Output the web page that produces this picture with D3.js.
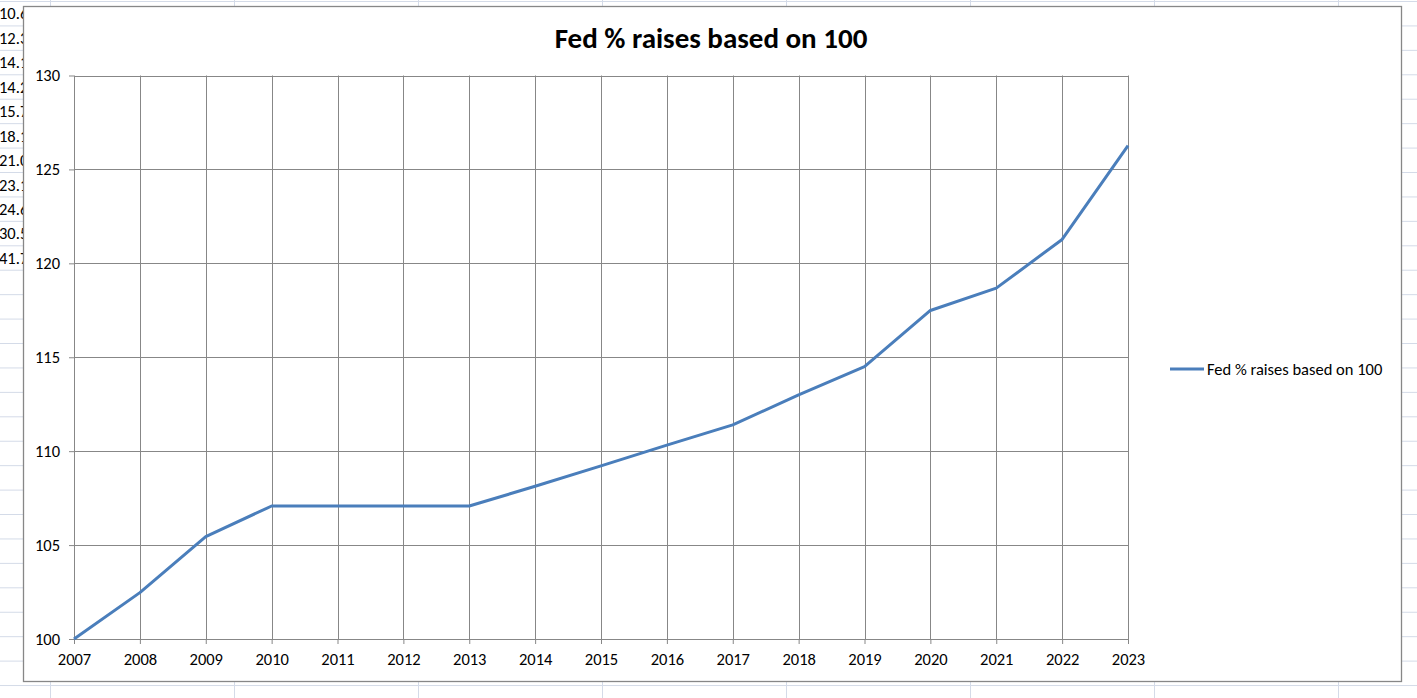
<!DOCTYPE html>
<html>
<head>
<meta charset="utf-8">
<script src="https://cdn.jsdelivr.net/npm/d3@7"></script>
<style>
  body { margin: 0; background: #fff; overflow: hidden; }
  text { font-family: Carlito, Lato, "Open Sans", sans-serif; fill: #000; }
</style>
</head>
<body>
<div id="chart"></div>
<script>
// data
var years = ["2007", "2008", "2009", "2010", "2011", "2012", "2013", "2014", "2015",
    "2016", "2017", "2018", "2019", "2020", "2021", "2022", "2023"];
var raises = [100, 102.47, 105.45, 107.08, 107.08, 107.08, 107.08, 108.13, 109.22,
    110.32, 111.4, 113.0, 114.5, 117.49, 118.68, 121.27, 126.27];
var yTicks = [100, 105, 110, 115, 120, 125, 130];
var seriesName = "Fed % raises based on 100";
// spreadsheet cells peeking out on the left
var sheetCells = ["10.6", "12.3", "14.1", "14.2", "15.7", "18.1", "21.0", "23.1", "24.6", "30.5", "41.7"];

var svgWidth = 1417;
var svgHeight = 698;

var svg = d3.select("#chart")
    .append("svg")
    .attr("width", svgWidth)
    .attr("height", svgHeight);

// spreadsheet background grid
var sheet = svg.append("g");
var rowH = 24.43;
for (var r = 0; r * rowH < svgHeight; r++) {
    sheet.append("line")
        .attr("x1", 0).attr("x2", svgWidth)
        .attr("y1", 1.5 + r * rowH).attr("y2", 1.5 + r * rowH)
        .attr("stroke", "#d4dbe8").attr("stroke-width", 1);
}
for (var c = 50; c < svgWidth; c += 184) {
    sheet.append("line")
        .attr("x1", c + 0.5).attr("x2", c + 0.5)
        .attr("y1", 0).attr("y2", svgHeight)
        .attr("stroke", "#d4dbe8").attr("stroke-width", 1);
}
sheet.selectAll("text.cell")
    .data(sheetCells)
    .enter()
    .append("text")
    .attr("class", "cell")
    .attr("x", -1)
    .attr("y", (d, i) => 1.5 + (i + 0.5) * rowH)
    .attr("dy", "0.35em")
    .style("font-size", "16.5px")
    .text(d => d);

// chart area
var chartBox = { x: 23.5, y: 6.5, w: 1378, h: 675 };
svg.append("rect")
    .attr("x", chartBox.x).attr("y", chartBox.y)
    .attr("width", chartBox.w).attr("height", chartBox.h)
    .attr("fill", "#fff")
    .attr("stroke", "#878787").attr("stroke-width", 1.3);

var margin = { left: 74, top: 75.5, right: 1128, bottom: 639 };

var xScale = d3.scalePoint()
    .domain(years)
    .range([margin.left, margin.right])
    .padding(0);

var yScale = d3.scaleLinear()
    .domain([100, 130])
    .range([margin.bottom, margin.top]);

var gridColor = "#878787";

// horizontal gridlines + y axis
var yAxis = svg.append("g")
    .attr("transform", `translate(${margin.left}, 0)`)
    .call(d3.axisLeft(yScale)
        .tickValues(yTicks)
        .tickSize(5)
        .tickPadding(9)
        .tickFormat(d3.format("d")));
yAxis.select(".domain").remove();
yAxis.selectAll(".tick line").attr("stroke", gridColor);
yAxis.selectAll(".tick text").style("font-size", "16.5px").attr("fill", "#000");

svg.append("g")
    .selectAll("line")
    .data(yTicks)
    .enter()
    .append("line")
    .attr("x1", margin.left).attr("x2", margin.right)
    .attr("y1", d => Math.round(yScale(d)) + 0.5)
    .attr("y2", d => Math.round(yScale(d)) + 0.5)
    .attr("stroke", gridColor).attr("stroke-width", 1);

// vertical gridlines + x axis
svg.append("g")
    .selectAll("line")
    .data(years)
    .enter()
    .append("line")
    .attr("x1", d => Math.round(xScale(d)) + 0.5)
    .attr("x2", d => Math.round(xScale(d)) + 0.5)
    .attr("y1", margin.top).attr("y2", margin.bottom)
    .attr("stroke", gridColor).attr("stroke-width", 1);

var xAxis = svg.append("g")
    .attr("transform", `translate(0, ${margin.bottom})`)
    .call(d3.axisBottom(xScale).tickSize(5).tickPadding(9));
xAxis.select(".domain").remove();
xAxis.selectAll(".tick line").attr("stroke", gridColor);
xAxis.selectAll(".tick text").style("font-size", "16.5px").attr("fill", "#000");

// the series line
var line = d3.line()
    .x((d, i) => xScale(years[i]))
    .y(d => yScale(d));

svg.append("path")
    .datum(raises)
    .attr("d", line)
    .attr("fill", "none")
    .attr("stroke", "#4a7ebb")
    .attr("stroke-width", 3)
    .attr("stroke-linejoin", "round");

// title
svg.append("text")
    .attr("x", 711)
    .attr("y", 48)
    .attr("text-anchor", "middle")
    .style("font-size", "29px")
    .style("font-weight", "bold")
    .text(seriesName);

// legend
var legend = svg.append("g")
    .attr("transform", "translate(1170, 369)");
legend.append("line")
    .attr("x1", 0).attr("x2", 34)
    .attr("y1", 0).attr("y2", 0)
    .attr("stroke", "#4a7ebb")
    .attr("stroke-width", 3);
legend.append("text")
    .attr("x", 37)
    .attr("y", 0)
    .attr("dy", "0.35em")
    .style("font-size", "16.5px")
    .text(seriesName);
</script>
</body>
</html>
